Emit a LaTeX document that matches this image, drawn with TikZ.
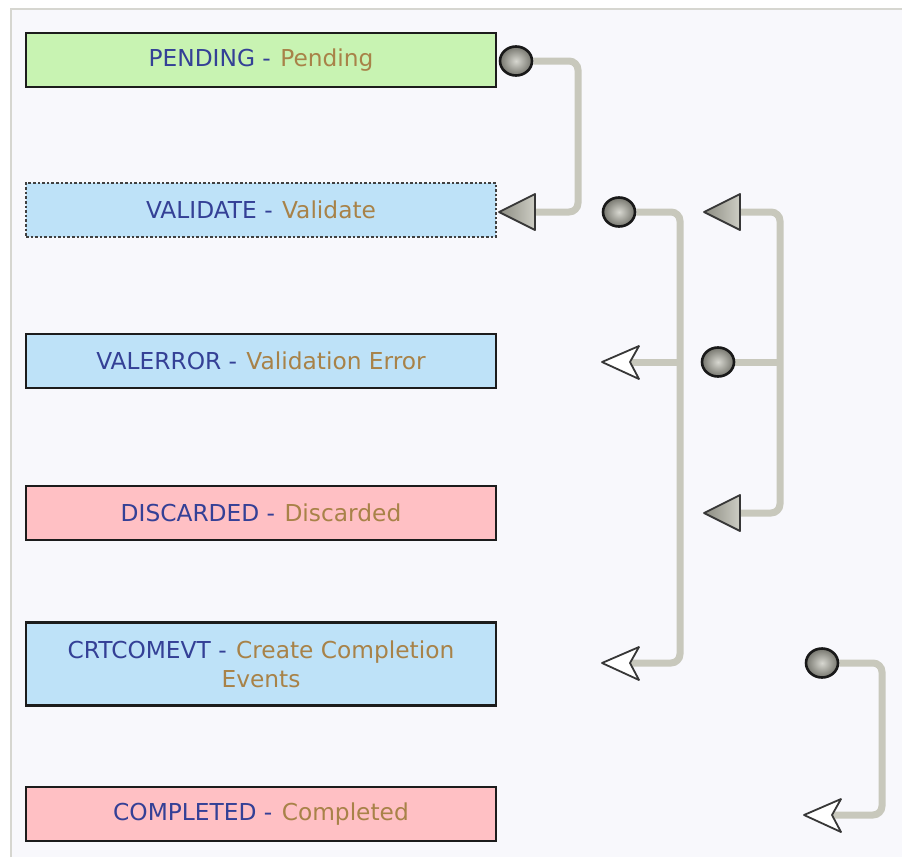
\documentclass[tikz,border=0pt]{standalone}
\usepackage{fontspec}
\setmainfont{DejaVu Sans}
\usetikzlibrary{shapes.geometric,calc}
\definecolor{pagebg}{RGB}{248,248,252}
\definecolor{frameline}{RGB}{214,214,208}
\definecolor{pgreen}{RGB}{200,243,178}
\definecolor{pblue}{RGB}{190,226,248}
\definecolor{ppink}{RGB}{255,192,196}
\definecolor{boxedge}{RGB}{28,28,28}
\definecolor{tblue}{RGB}{52,64,150}
\definecolor{tbrown}{RGB}{168,130,72}
\definecolor{connline}{RGB}{200,200,188}
\definecolor{portlight}{RGB}{215,215,208}
\definecolor{portdark}{RGB}{118,118,110}
\definecolor{tridark}{RGB}{140,140,130}
\definecolor{trilight}{RGB}{205,205,196}
\definecolor{arrowedge}{RGB}{55,55,55}
\pgfdeclarelayer{bg}
\pgfdeclarelayer{lines}
\pgfsetlayers{bg,lines,main}
\tikzset{
  statebox/.style={draw=boxedge, line width=2.6pt, minimum width=470pt, minimum height=54pt,
    inner sep=0pt, align=center, font=\fontsize{23.3}{29}\selectfont},
  port/.style={ellipse, minimum width=32pt, minimum height=29pt, inner sep=0pt,
    draw=black!90, line width=2.6pt, inner color=portlight, outer color=portdark},
  conn/.style={draw=connline, line width=7pt, rounded corners=9pt},
  filltri/.pic={
    \shade[left color=tridark, right color=trilight, draw=arrowedge, line width=1.8pt, line join=round]
      (0,0) -- (36,-18) -- (36,18) -- cycle;},
  openarrow/.pic={
    \filldraw[fill=white, draw=arrowedge, line width=1.8pt, line join=round]
      (0,0) -- (37,-16) -- (28,0) -- (37,17) -- cycle;}
}
\newcommand{\stxt}[2]{\textcolor{tblue}{#1 -}\ \hspace{2pt}\textcolor{tbrown}{#2}}
\begin{document}
\begin{tikzpicture}[x=1pt,y=-1pt]
\useasboundingbox (0,0) rectangle (902,857);
\begin{pgfonlayer}{bg}
  \fill[white] (0,0) rectangle (902,857);
  \fill[pagebg] (11,9) rectangle (902,857);
  \draw[frameline, line width=2pt] (11,857) -- (11,9) -- (902,9);
\end{pgfonlayer}

% state boxes
\node[statebox, fill=pgreen] (pending) at (261,60) {\stxt{PENDING}{Pending}};
\node[statebox, fill=pblue, dotted, draw=black!75, line width=1.6pt] (validate) at (261,210) {\stxt{VALIDATE}{Validate}};
\node[statebox, fill=pblue] (valerror) at (261,361) {\stxt{VALERROR}{Validation Error}};
\node[statebox, fill=ppink] (discarded) at (261,513) {\stxt{DISCARDED}{Discarded}};
\node[statebox, fill=pblue, minimum height=83pt] (crtcomevt) at (261,664) {\textcolor{tblue}{CRTCOMEVT -}\ \hspace{2pt}\textcolor{tbrown}{Create Completion}\\\textcolor{tbrown}{Events}};
\node[statebox, fill=ppink] (completed) at (261,814) {\stxt{COMPLETED}{Completed}};

% source ports
\node[port] (p1) at (516,61) {};
\node[port] (p2) at (619,212) {};
\node[port] (p3) at (718,362) {};
\node[port] (p4) at (822,663) {};

% arrow heads (tips)
\coordinate (t1) at (499,212);
\coordinate (t2) at (704,212);
\coordinate (t3) at (704,513);
\coordinate (a2) at (602,362);
\coordinate (a3) at (602,663);
\coordinate (a4) at (804,815);
\pic at (t1) {filltri};
\pic at (t2) {filltri};
\pic at (t3) {filltri};
\pic at (a2) {openarrow};
\pic at (a3) {openarrow};
\pic at (a4) {openarrow};

% bus columns
\coordinate (bus1) at (578,0);
\coordinate (bus2) at (680,0);
\coordinate (bus3) at (780,0);
\coordinate (bus4) at (882,0);

\begin{pgfonlayer}{lines}
  \draw[conn] (p1) -| (bus1 |- t1) -- ([xshift=34pt]t1);
  \draw[conn] (p2) -| (bus2 |- a3) -- ([xshift=28pt]a3);
  \draw[conn] (bus2 |- a2) -- ([xshift=28pt]a2);
  \draw[conn] ([xshift=34pt]t2) -| (bus3 |- t3) -- ([xshift=34pt]t3);
  \draw[conn] (p3) -- (bus3 |- p3);
  \draw[conn] (p4) -| (bus4 |- a4) -- ([xshift=28pt]a4);
\end{pgfonlayer}
\end{tikzpicture}
\end{document}
